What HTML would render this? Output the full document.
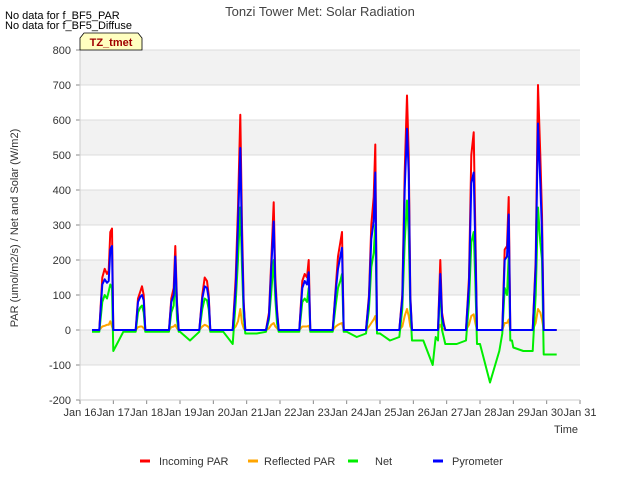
<!DOCTYPE html>
<html><head><meta charset="utf-8"><style>
body{margin:0;background:#fff;font-family:"Liberation Sans",sans-serif;}
svg text{font-family:"Liberation Sans",sans-serif;}
</style></head><body>
<svg id="chart" width="640" height="480" xmlns="http://www.w3.org/2000/svg">
<rect x="0" y="0" width="640" height="480" fill="#fff"/>
<g id="grid"></g>
<g id="series"></g>
<g id="axes"></g>
<text x="320" y="16" text-anchor="middle" font-size="13" fill="#444">Tonzi Tower Met: Solar Radiation</text>
<text x="5" y="19" font-size="11" fill="#000">No data for f_BF5_PAR</text>
<text x="5" y="29" font-size="11" fill="#000">No data for f_BF5_Diffuse</text>
<g>
<path d="M80,50 L80,38 L84,33 L138,33 L142,38 L142,50 Z" fill="#ffffc0" stroke="#000" stroke-width="0.8"/>
<text x="111" y="46" text-anchor="middle" font-size="11" font-weight="bold" fill="#a00000">TZ_tmet</text>
</g>
<text transform="translate(18,228) rotate(-90)" text-anchor="middle" font-size="11" fill="#333">PAR (umol/m2/s) / Net and Solar (W/m2)</text>
<text x="578" y="433" text-anchor="end" font-size="11" fill="#333">Time</text>
<g id="legend"></g>
</svg>
<script>
const yTicks=[-200,-100,0,100,200,300,400,500,600,700,800];
const xTickLabels=["Jan 16","Jan 17","Jan 18","Jan 19","Jan 20","Jan 21","Jan 22","Jan 23","Jan 24","Jan 25","Jan 26","Jan 27","Jan 28","Jan 29","Jan 30","Jan 31"];
const seriesNames=["Incoming PAR","Reflected PAR","Net","Pyrometer"];
const dayOffsets=[0.58,0.67,0.74,0.81,0.86,0.91,0.96,1.0,1.3];
const incomingPAR=[
[0,150,175,160,170,280,290,0,0],
[0,0,90,110,125,100,0,0,0],
[0,0,90,120,240,80,0,0,0],
[0,100,150,140,100,0,0,0,0],
[0,150,350,615,300,80,0,0,0],
[0,50,200,365,150,60,0,0,0],
[0,140,160,150,200,0,0,0,0],
[0,120,210,250,280,0,0,0,0],
[0,100,300,380,530,0,0,0,0],
[0,100,450,670,500,100,0,0,0],
[0,0,0,200,50,20,0,0,0],
[0,150,500,565,290,0,0,0,0],
[0,0,230,240,380,0,0,0,0],
[0,200,700,500,330,0,0,0,0]];
const reflectedPAR=[
[0,10,12,15,15,25,10,0,0],
[0,0,8,10,10,5,0,0,0],
[0,0,8,10,15,5,0,0,0],
[0,10,15,12,8,0,0,0,0],
[0,10,25,60,20,5,0,0,0],
[0,5,15,20,10,5,0,0,0],
[0,10,10,10,12,0,0,0,0],
[0,10,15,18,20,0,0,0,0],
[0,10,20,30,40,0,0,0,0],
[0,10,40,60,40,10,0,0,0],
[0,0,0,15,5,2,0,0,0],
[0,15,40,45,20,0,0,0,0],
[0,0,20,20,30,0,0,0,0],
[0,20,60,50,30,0,0,0,0]];
const netRad=[
[-5,80,100,90,110,130,120,-60,-5],
[-5,-5,50,65,70,50,-5,-5,-5],
[-5,-5,50,70,170,30,-5,-5,-30],
[-5,60,90,85,60,-5,-5,-5,-5],
[-40,80,200,350,180,40,-10,-10,-10],
[-5,30,110,200,90,20,-5,-5,-5],
[-5,80,90,80,120,-5,-5,-5,-5],
[-5,70,120,140,160,-5,-5,-5,-20],
[-10,60,180,220,300,-10,-10,-10,-30],
[-20,60,250,370,280,60,-30,-30,-30],
[-100,-20,-30,150,0,-20,-40,-40,-40],
[-30,80,250,280,140,-40,-40,-40,-150],
[-60,-10,120,100,210,-30,-30,-50,-60],
[-60,100,350,250,200,-70,-70,-70,-70]];
const pyrometer=[
[0,130,145,135,140,230,240,0,0],
[0,0,80,95,100,85,0,0,0],
[0,0,80,100,210,70,0,0,0],
[0,90,125,120,90,0,0,0,0],
[0,120,300,520,250,70,0,0,0],
[0,40,180,310,130,50,0,0,0],
[0,120,140,130,165,0,0,0,0],
[0,110,175,210,235,0,0,0,0],
[0,90,260,310,450,0,0,0,0],
[0,90,400,575,450,90,0,0,0],
[0,0,0,160,40,15,0,0,0],
[0,130,420,450,240,0,0,0,0],
[0,0,200,210,330,0,0,0,0],
[0,180,590,420,280,0,0,0,0]];
const startDay=0.36;
const x0=80,x1=580,yTop=50,yBot=400,dMin=0,dMax=15,vMin=-200,vMax=800;
const xs=d=>x0+(d-dMin)/(dMax-dMin)*(x1-x0);
const ys=v=>yBot-(v-vMin)/(vMax-vMin)*(yBot-yTop);
const NS="http://www.w3.org/2000/svg";
function mk(tag,attrs,parent){const e=document.createElementNS(NS,tag);for(const k in attrs)e.setAttribute(k,attrs[k]);parent.appendChild(e);return e;}
const grid=document.getElementById('grid');
const bg=mk('rect',{x:x0,y:yTop,width:x1-x0,height:yBot-yTop,fill:'#fff'},grid);


for(let i=0;i<yTicks.length-1;i++){
  if(i%2===1){const b=mk('rect',{x:x0,y:ys(yTicks[i+1]),width:x1-x0,height:ys(yTicks[i])-ys(yTicks[i+1]),fill:'#f2f2f2'},grid);
  
  }
}
const axes=document.getElementById('axes');
yTicks.forEach(v=>{
  const l=mk('line',{x1:x0,x2:x1,y1:ys(v),y2:ys(v),stroke:'#dcdcdc','stroke-width':1},grid);
  
  
  const t=mk('text',{x:x0-9,y:ys(v)+4,'text-anchor':'end','font-size':11,fill:'#333'},axes);
  t.textContent=v;
  
  
  mk('line',{x1:x0-4,x2:x0,y1:ys(v),y2:ys(v),stroke:'#888'},axes);
});
xTickLabels.forEach((s,i)=>{
  const t=mk('text',{x:xs(i),y:416,'text-anchor':'middle','font-size':11,fill:'#333'},axes);
  t.textContent=s;
  
  
  mk('line',{x1:xs(i),x2:xs(i),y1:yBot,y2:yBot+4,stroke:'#888'},axes);
});
mk('line',{x1:x0,x2:x0,y1:yTop,y2:yBot,stroke:'#ccc'},axes);
mk('line',{x1:x0,x2:x1,y1:yBot,y2:yBot,stroke:'#ccc'},axes);
const colors=['#ff0000','#ffa500','#00ee00','#0000ff'];
const data=[incomingPAR,reflectedPAR,netRad,pyrometer];
const order=[0,1,2,3];
const sg=document.getElementById('series');
order.forEach(si=>{
  const arr=data[si];
  let pts=[[startDay,si===2?-5:0]];
  arr.forEach((day,k)=>day.forEach((v,j)=>pts.push([k+dayOffsets[j],v])));
  const d=pts.map((p,i)=>(i?'L':'M')+xs(p[0]).toFixed(1)+','+ys(p[1]).toFixed(1)).join(' ');
  const p=mk('path',{d:d,fill:'none',stroke:colors[si],'stroke-width':2,'stroke-linejoin':'round'},sg);
  
  
});
const lg=document.getElementById('legend');
const lx=[140,248,348,433];
const tx=[159,264,375,452];
seriesNames.forEach((n,i)=>{
  const g=mk('g',{},lg);
  
  
  mk('line',{x1:lx[i],x2:lx[i]+10,y1:461,y2:461,stroke:colors[i],'stroke-width':3},g);
  const t=mk('text',{x:tx[i],y:465,'font-size':11,fill:'#333'},g);
  t.textContent=n;
});
</script>
</body></html>
